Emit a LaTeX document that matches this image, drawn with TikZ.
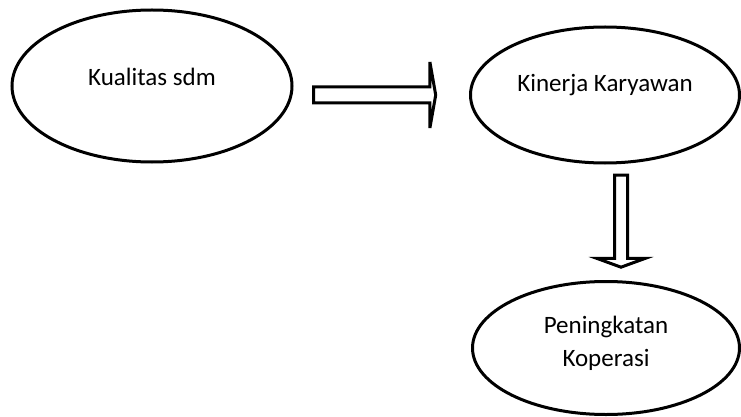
\documentclass[tikz,border=0pt]{standalone}
\usepackage{fontspec}
\setmainfont{Carlito}
\usepackage{tikz}
\usetikzlibrary{shapes.geometric, shapes.arrows, positioning, calc}

\begin{document}
\begin{tikzpicture}[x=1pt, y=-1pt,
  oval/.style={ellipse, draw, line width=3pt, inner sep=0pt},
  lbl/.style={font=\fontsize{25}{33}\selectfont, align=center},
  block/.style={single arrow, draw, line width=3pt, inner xsep=0pt, text height=0pt, text depth=0pt}]
\useasboundingbox (0,0) rectangle (741,417);
% Framework: kualitas -> kinerja -> peningkatan
\node[oval, minimum width=280pt, minimum height=152pt] (kualitas) at (152,86) {};
\node[lbl] (kualitasText) at (152,77) {Kualitas sdm};

\node[oval, minimum width=269pt, minimum height=136pt] (kinerja) at (605,95) {};
\node[lbl] (kinerjaText) at (605,85) {Kinerja Karyawan};

\node[oval, minimum width=267pt, minimum height=133pt] (peningkatan) at (606,348) {};
\node[lbl] (peningkatanText) at (606,343) {Peningkatan\\Koperasi};

% Block arrows
\node[block, minimum height=122pt, inner ysep=6.5pt, single arrow head extend=25pt, single arrow tip angle=160] (toKinerja) at (374,95) {};
\node[block, rotate=-90, minimum height=92pt, inner ysep=5pt, single arrow head extend=17.5pt, single arrow tip angle=140] (toPeningkatan) at (621,220) {};
\end{tikzpicture}
\end{document}
